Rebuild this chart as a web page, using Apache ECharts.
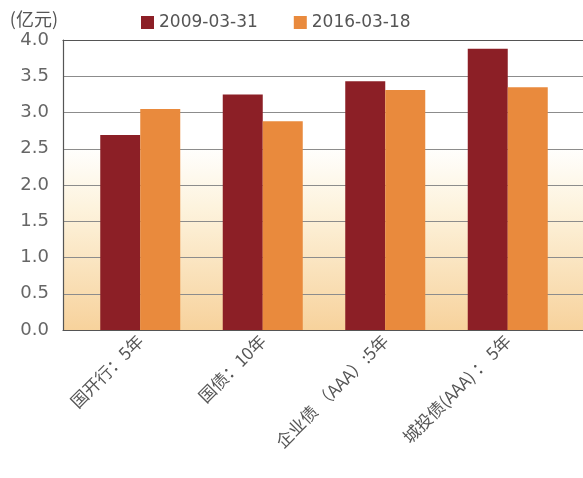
<!DOCTYPE html>
<html><head><meta charset="utf-8">
<script src="https://cdn.jsdelivr.net/npm/echarts@6/dist/echarts.min.js"></script>
<style>html,body{margin:0;padding:0;background:#fff}#c{width:583px;height:478px}</style>
</head><body><div id="c"></div>
<script>
const categories = ['国开行：5年', '国债：10年', '企业债 （AAA）:5年', '城投债(AAA) ： 5年'];
const seriesNames = ['2009-03-31', '2016-03-18'];
const values2009 = [2.69, 3.25, 3.43, 3.88];
const values2016 = [3.05, 2.88, 3.31, 3.35];
const yTicks = { min: 0, max: 4, interval: 0.5 };
const unitLabel = '(亿元)';

const chart = echarts.init(document.getElementById('c'));
const font = '"Noto Sans CJK SC", "Noto Sans", sans-serif';
const numFont = '"DejaVu Sans", "Noto Sans", sans-serif';
chart.setOption({
  animation: false,
  backgroundColor: '#fff',
  textStyle: { fontFamily: font },
  legend: {
    data: seriesNames, top: 9, left: 136, itemWidth: 13, itemHeight: 13, itemGap: 36,
    icon: 'rect',
    textStyle: { fontSize: 17, color: '#555', fontFamily: numFont }
  },
  grid: [
    { left: 63, top: 40, right: -40, height: 290, show: true, borderWidth: 0,
      backgroundColor: new echarts.graphic.LinearGradient(0, 0, 0, 1, [
        { offset: 0, color: '#ffffff' },
        { offset: 0.36, color: '#ffffff' },
        { offset: 0.58, color: '#fdf3dd' },
        { offset: 1, color: '#f7d29c' }
      ]) },
    { left: 79, top: 40, width: 490, height: 290 }
  ],
  xAxis: [
    { gridIndex: 0, type: 'category', data: [''], position: 'bottom',
      axisLine: { show: true, lineStyle: { color: '#555', width: 1.2 } },
      axisTick: { show: false }, axisLabel: { show: false } },
    { gridIndex: 0, type: 'category', data: [''], position: 'top',
      axisLine: { show: true, lineStyle: { color: '#555', width: 1.2 } },
      axisTick: { show: false }, axisLabel: { show: false } },
    { gridIndex: 1, type: 'category', data: categories,
      axisLine: { show: false }, axisTick: { show: false },
      axisLabel: { rotate: 45, margin: 8, fontSize: 17, color: '#555', fontFamily: font, interval: 0 } }
  ],
  yAxis: [
    { gridIndex: 0, type: 'value', min: yTicks.min, max: yTicks.max, interval: yTicks.interval,
      name: unitLabel, nameLocation: 'end', nameGap: 12,
      nameTextStyle: { fontSize: 18, color: '#555', align: 'right', padding: [0, 5, 0, 0], fontFamily: font },
      axisLine: { show: true, lineStyle: { color: '#555', width: 1.2 } },
      axisTick: { show: false },
      axisLabel: { fontSize: 18, color: '#666', margin: 14, fontFamily: numFont, formatter: v => v.toFixed(1) },
      splitLine: { show: true, lineStyle: { color: '#8c8c8c', width: 1 } } },
    { gridIndex: 1, type: 'value', min: yTicks.min, max: yTicks.max, interval: yTicks.interval, show: false,
      splitLine: { show: false } }
  ],
  series: [
    { name: seriesNames[0], type: 'bar', xAxisIndex: 2, yAxisIndex: 1, data: values2009,
      barWidth: 40, barGap: '0%', itemStyle: { color: '#8c1f26' } },
    { name: seriesNames[1], type: 'bar', xAxisIndex: 2, yAxisIndex: 1, data: values2016,
      barWidth: 40, barGap: '0%', itemStyle: { color: '#e98a3d' } }
  ]
});
</script></body></html>
